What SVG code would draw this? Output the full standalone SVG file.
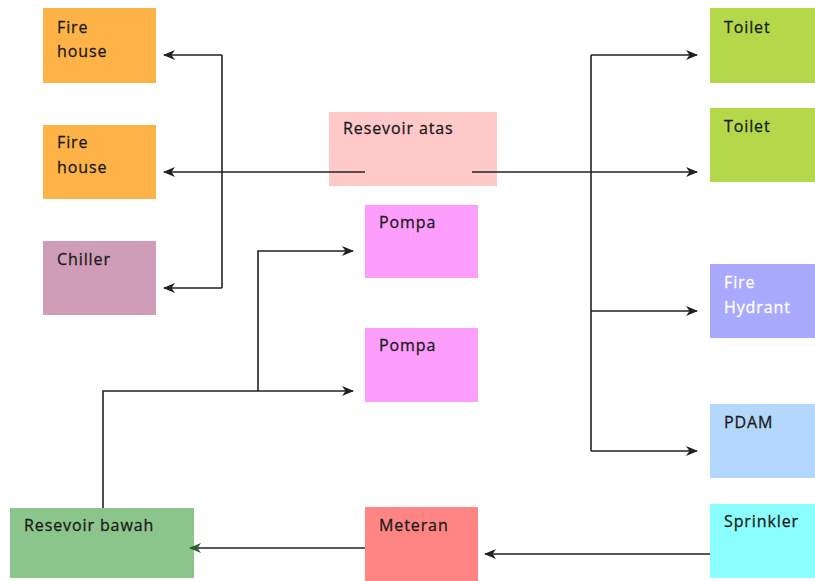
<svg xmlns="http://www.w3.org/2000/svg" width="815" height="581" viewBox="0 0 815 581">
  <style>
    .lbl { font-family: "Open Sans", "Noto Sans", "DejaVu Sans", sans-serif; font-size: 16px; letter-spacing: 0.9px; fill: #1a1a1a; stroke: #1a1a1a; stroke-width: 0.3px; }
    .light { fill: #ffffff; stroke: #ffffff; }
    .wire { fill: none; stroke: #222222; stroke-width: 1.6; }
    .arr { marker-end: url(#head); }
  </style>
  <defs>
    <marker id="head" viewBox="0 0 12 10" refX="11" refY="5" markerWidth="12" markerHeight="10" markerUnits="userSpaceOnUse" orient="auto">
      <path d="M0,0 L12,5 L0,10 L3.5,5 z" fill="#222222"/>
    </marker>
    <marker id="headGreen" viewBox="0 0 12 10" refX="11" refY="5" markerWidth="12" markerHeight="10" markerUnits="userSpaceOnUse" orient="auto">
      <path d="M0,0 L12,5 L0,10 L3.5,5 z" fill="#2f5e2f"/>
    </marker>
  </defs>

  <rect width="815" height="581" fill="#ffffff"/>

  <!-- left column -->
  <g id="fire-house-1">
    <rect x="43" y="8" width="113" height="75" fill="#fdb347"/>
    <text class="lbl" x="57" y="33">Fire</text>
    <text class="lbl" x="57" y="57">house</text>
  </g>
  <g id="fire-house-2">
    <rect x="43" y="125" width="113" height="74" fill="#fdb347"/>
    <text class="lbl" x="57" y="148">Fire</text>
    <text class="lbl" x="57" y="173">house</text>
  </g>
  <g id="chiller">
    <rect x="43" y="241" width="113" height="74" fill="#cf9db8"/>
    <text class="lbl" x="57" y="265">Chiller</text>
  </g>

  <!-- middle column -->
  <g id="resevoir-atas">
    <rect x="329" y="112" width="168" height="74" fill="#ffc9c9"/>
    <text class="lbl" x="343" y="134">Resevoir atas</text>
  </g>
  <g id="pompa-1">
    <rect x="365" y="205" width="113" height="73" fill="#fd9efd"/>
    <text class="lbl" x="379" y="228">Pompa</text>
  </g>
  <g id="pompa-2">
    <rect x="365" y="328" width="113" height="74" fill="#fd9efd"/>
    <text class="lbl" x="379" y="351">Pompa</text>
  </g>
  <g id="meteran">
    <rect x="365" y="507" width="113" height="74" fill="#ff8585"/>
    <text class="lbl" x="379" y="531">Meteran</text>
  </g>
  <g id="resevoir-bawah">
    <rect x="10" y="508" width="184" height="70" fill="#8bc58b"/>
    <text class="lbl" x="24" y="531">Resevoir bawah</text>
  </g>

  <!-- right column -->
  <g id="toilet-1">
    <rect x="710" y="8" width="105" height="75" fill="#b5d84b"/>
    <text class="lbl" x="724" y="33">Toilet</text>
  </g>
  <g id="toilet-2">
    <rect x="710" y="108" width="105" height="74" fill="#b5d84b"/>
    <text class="lbl" x="724" y="132">Toilet</text>
  </g>
  <g id="fire-hydrant">
    <rect x="710" y="264" width="105" height="74" fill="#a9a9fd"/>
    <text class="lbl light" x="724" y="288">Fire</text>
    <text class="lbl light" x="724" y="313">Hydrant</text>
  </g>
  <g id="pdam">
    <rect x="710" y="404" width="105" height="74" fill="#b3d7fd"/>
    <text class="lbl" x="724" y="428">PDAM</text>
  </g>
  <g id="sprinkler">
    <rect x="710" y="504" width="105" height="74" fill="#8bffff"/>
    <text class="lbl" x="724" y="527">Sprinkler</text>
  </g>

  <!-- pipework -->
  <g id="connectors">
    <!-- Resevoir atas to the left consumers -->
    <path class="wire arr" d="M365,172 H164"/>
    <path class="wire" d="M222,55 V288"/>
    <path class="wire arr" d="M222,55 H164"/>
    <path class="wire arr" d="M222,288 H164"/>

    <!-- Resevoir atas to the right consumers -->
    <path class="wire arr" d="M472,172 H697"/>
    <path class="wire" d="M591,55 V451"/>
    <path class="wire arr" d="M591,55 H697"/>
    <path class="wire arr" d="M591,311 H697"/>
    <path class="wire arr" d="M591,451 H697"/>

    <!-- Resevoir bawah up to the pumps -->
    <path class="wire" d="M103,508 V391 H258"/>
    <path class="wire arr" d="M258,391 H353"/>
    <path class="wire arr" d="M258,391 V251 H353"/>

    <!-- supply through the meter -->
    <path class="wire arr" d="M710,554 H485"/>
    <path class="wire" d="M365,548 H190" marker-end="url(#headGreen)"/>
  </g>
</svg>
